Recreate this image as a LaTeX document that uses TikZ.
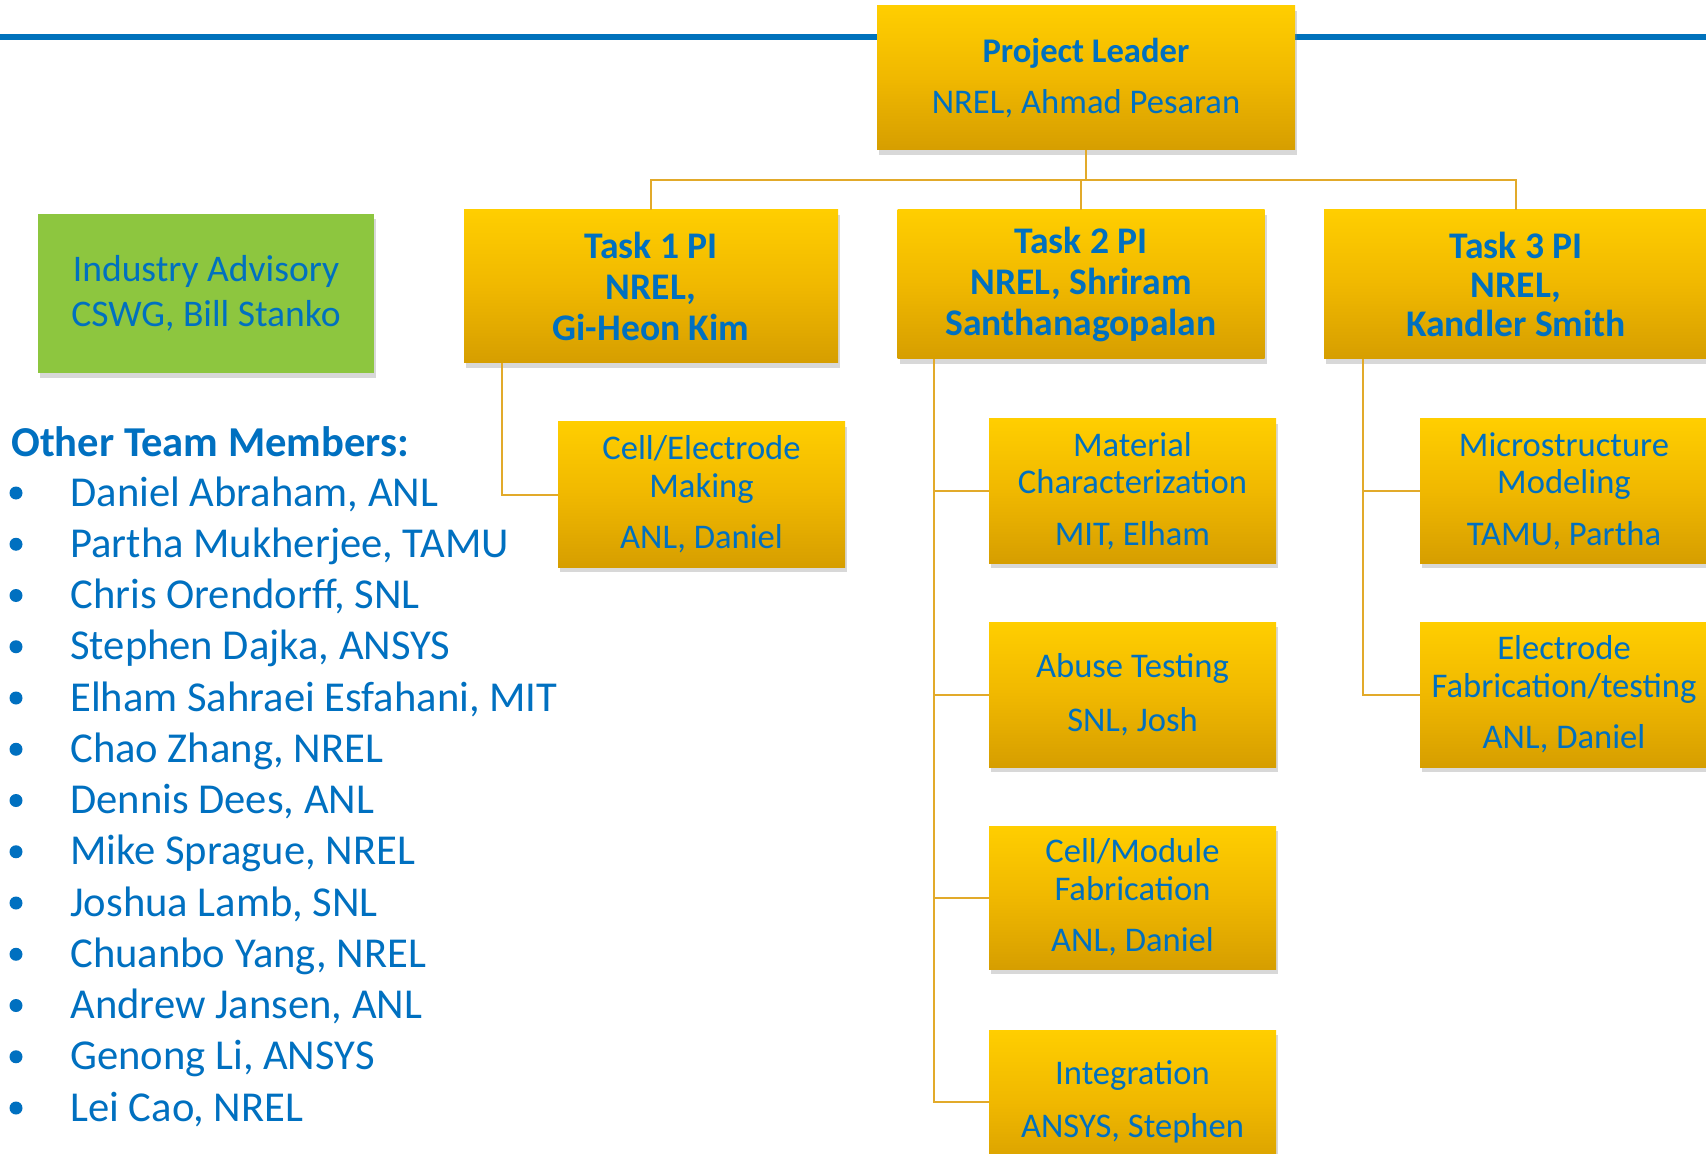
\documentclass[tikz,border=0pt]{standalone}
\usepackage{fontspec}
\setmainfont{Carlito}
\usetikzlibrary{shadows}
\definecolor{txtblue}{RGB}{0,112,192}
\definecolor{lineblue}{RGB}{0,114,188}
\definecolor{goldtop}{RGB}{255,206,0}
\definecolor{goldmid}{RGB}{240,184,0}
\definecolor{goldbot}{RGB}{214,158,0}
\definecolor{advgreen}{RGB}{141,198,63}
\definecolor{conn}{RGB}{226,170,42}
\begin{document}
\begin{tikzpicture}[x=0.5pt,y=-0.5pt,
  boxshadow/.style={drop shadow={opacity=0.3, shadow xshift=1pt, shadow yshift=-2.5pt}},
  goldbox/.style={rectangle, inner sep=0pt, top color=goldtop, bottom color=goldbot, middle color=goldmid, text=txtblue, align=center, boxshadow},
  subtxt/.style={font=\fontsize{17.3}{18.7}\selectfont},
  tasktxt/.style={font=\bfseries\fontsize{18.8}{20.5}\selectfont},
  subbox/.style={goldbox, subtxt, minimum width=143.5pt, minimum height=72pt},
  conline/.style={draw=conn, line width=1pt},
  listtxt/.style={text=txtblue, font=\fontsize{21.3}{25}\selectfont, anchor=base west, inner sep=0pt},
  bulletdot/.style={circle, fill=txtblue, inner sep=0pt, minimum size=6.5pt}
]
\useasboundingbox (0,0) rectangle (1706,1154);
\fill[white] (0,0) rectangle (1706,1154);
% top blue rule
\draw[lineblue, line width=3pt] (0,37) -- (1706,37);

% project leader
\node[goldbox, minimum width=209pt, minimum height=72pt, font=\fontsize{17.3}{19.5}\selectfont] (pl) at (1086,78)
  {\textbf{Project Leader}\\[6pt]NREL, Ahmad Pesaran};

% task PIs
\node[goldbox, tasktxt, minimum width=187pt, minimum height=76.5pt] (t1) at (651,286.5)
  {Task 1 PI\\NREL,\\Gi-Heon Kim};
\node[goldbox, tasktxt, minimum width=183.5pt, minimum height=74.5pt] (t2) at (1081,284.5)
  {Task 2 PI\\NREL, Shriram\\Santhanagopalan};
\node[goldbox, font=\bfseries\fontsize{18.8}{19.3}\selectfont, minimum width=192pt, minimum height=74.5pt] (t3) at (1516,284.5)
  {Task 3 PI\\NREL,\\Kandler Smith};

% industry advisory
\node[rectangle, fill=advgreen, text=txtblue, align=center, inner sep=0pt, boxshadow,
      minimum width=168pt, minimum height=79.5pt, font=\fontsize{18.8}{22.3}\selectfont] (adv) at (206,293.5)
  {Industry Advisory\\CSWG, Bill Stanko};

% sub tasks
\node[subbox, minimum height=72.5pt] (ce) at (701.5,494.5) {Cell/Electrode\\Making\\[7pt]ANL, Daniel};
\node[subbox] (mat) at (1132.5,491) {Material\\Characterization\\[7pt]MIT, Elham};
\node[subbox, minimum height=72.5pt] (ab) at (1132.5,694.5) {Abuse Testing\\[8pt]SNL, Josh};
\node[subbox, minimum height=71.5pt] (cm) at (1132.5,897.5) {Cell/Module\\Fabrication\\[7pt]ANL, Daniel};
\node[subbox] (ig) at (1132.5,1102) {Integration\\[8pt]ANSYS, Stephen};
\node[subbox, minimum width=144pt] (mi) at (1564,491) {Microstructure\\Modeling\\[7pt]TAMU, Partha};
\node[subbox, minimum width=144pt, minimum height=72.5pt] (el) at (1564,694.5) {Electrode\\Fabrication/testing\\[7pt]ANL, Daniel};

% connectors
\coordinate (bus) at (1086,180);
\draw[conline] (pl.south) -- (pl.south |- bus);
\draw[conline] (t1.north) -- (t1.north |- bus) -| (t3.north);
\draw[conline] (t2.north) -- (t2.north |- bus);
\draw[conline] ([xshift=19pt]t1.south west) |- (ce.west);
\draw[conline] ([xshift=18.5pt]t2.south west) |- (mat.west);
\draw[conline] ([xshift=18.5pt]t2.south west) |- (ab.west);
\draw[conline] ([xshift=18.5pt]t2.south west) |- (cm.west);
\draw[conline] ([xshift=18.5pt]t2.south west) |- (ig.west);
\draw[conline] ([xshift=19.5pt]t3.south west) |- (mi.west);
\draw[conline] ([xshift=19.5pt]t3.south west) |- (el.west);

% other team members
\node[text=txtblue, font=\bfseries\fontsize{21.3}{25}\selectfont, anchor=base west, inner sep=0pt] (otm) at (11,457) {Other Team Members:};
\foreach \i/\name in {0/{Daniel Abraham, ANL},1/{Partha Mukherjee, TAMU},2/{Chris Orendorff, SNL},3/{Stephen Dajka, ANSYS},4/{Elham Sahraei Esfahani, MIT},5/{Chao Zhang, NREL},6/{Dennis Dees, ANL},7/{Mike Sprague, NREL},8/{Joshua Lamb, SNL},9/{Chuanbo Yang, NREL},10/{Andrew Jansen, ANL},11/{Genong Li, ANSYS},12/{Lei Cao, NREL}}{
  \pgfmathsetmacro{\yb}{506+51.25*\i}
  \node[listtxt] (item\i) at (70,\yb) {\name};
  \node[bulletdot] (bul\i) at (16,\yb-13) {};
}
\end{tikzpicture}
\end{document}
